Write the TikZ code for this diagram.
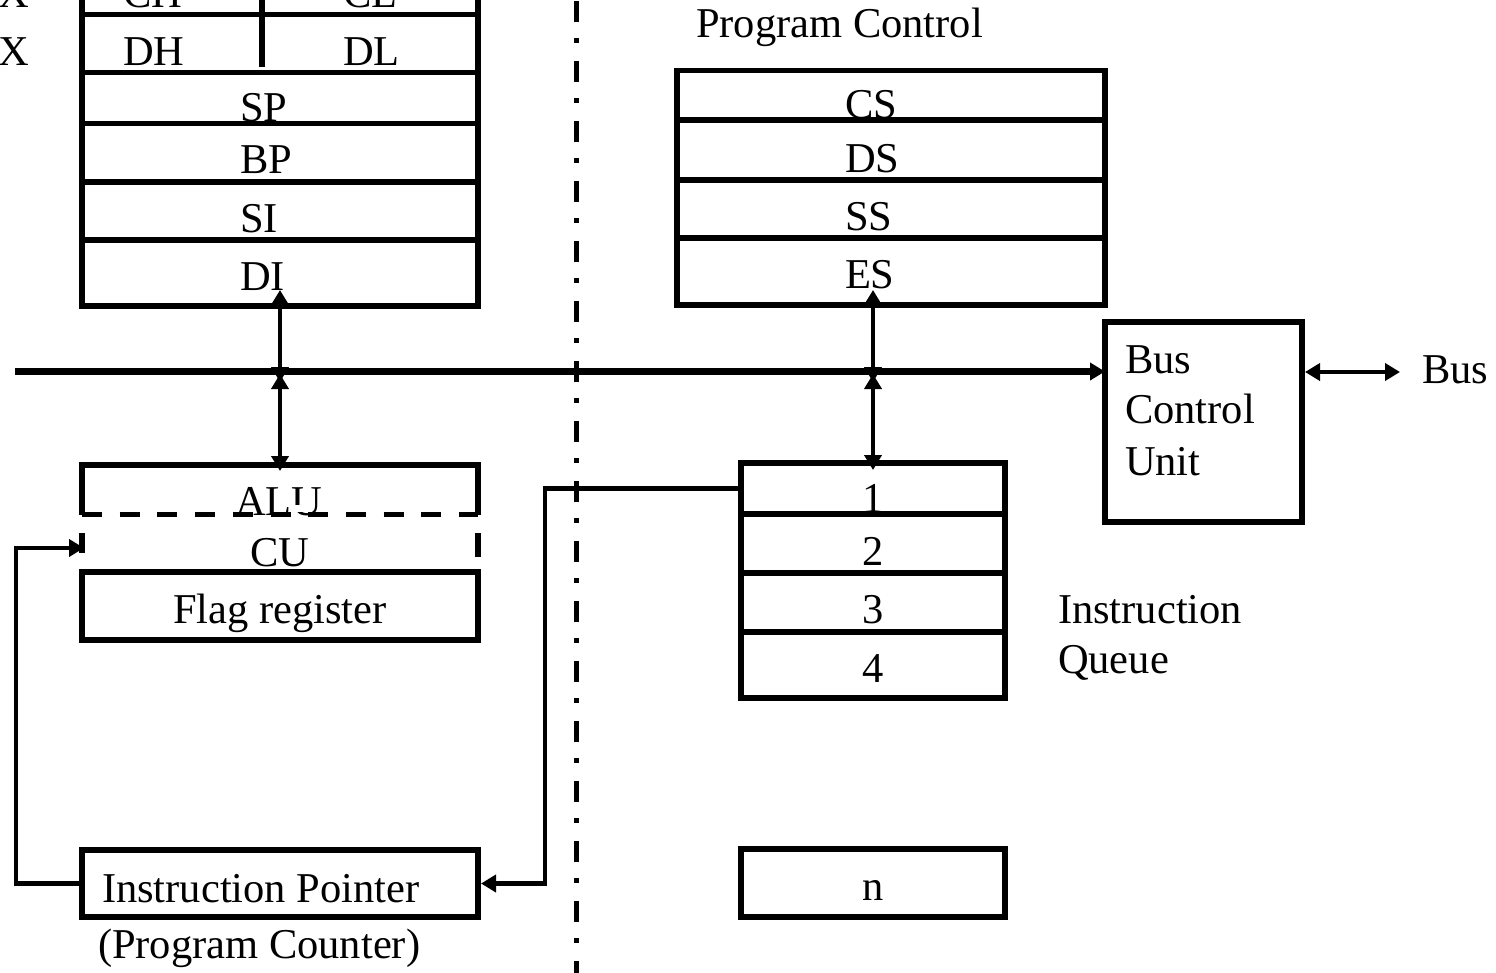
\documentclass[tikz,border=0pt]{standalone}
\usepackage{fontspec}
\setmainfont{Liberation Serif}
\usetikzlibrary{arrows.meta}
\begin{document}
\begin{tikzpicture}[x=1pt,y=-1pt,
  lbl/.style={font=\fontsize{42.5}{51}\selectfont, inner sep=0pt, outer sep=0pt},
  regbox/.style={draw, line width=5.3pt, inner sep=0pt, outer sep=0pt},
  hidden/.style={inner sep=0pt, outer sep=0pt},
  edge/.style={line width=5.3pt},
  conn/.style={line width=4.8pt},
  busline/.style={line width=6.3pt},
  >={Triangle[length=15pt,width=17pt]}
]
\useasboundingbox (0,0) rectangle (1496,972);
\clip (0,0) rectangle (1496,972);
\fill[white] (0,0) rectangle (1496,972);

% ---------- general purpose registers ----------
\node[regbox, minimum width=396pt, minimum height=58pt]   (cxrow) at (280,-14.5) {};
\node[regbox, minimum width=396pt, minimum height=58pt]   (dxrow) at (280,43.5) {};
\node[regbox, minimum width=396pt, minimum height=51pt]   (sp)    at (280,98) {};
\node[regbox, minimum width=396pt, minimum height=58.5pt] (bp)    at (280,152.75) {};
\node[regbox, minimum width=396pt, minimum height=58pt]   (si)    at (280,211) {};
\node[regbox, minimum width=396pt, minimum height=66pt]   (di)    at (280,273) {};
\draw[edge] (262,-50) -- (262,67);

\node[lbl, anchor=base east] (cxT) at (29,7) {CX};
\node[lbl, anchor=base east] (dxT) at (29,65) {DX};
\node[lbl, anchor=base west] (chT) at (123,7) {CH};
\node[lbl, anchor=base west] (clT) at (343,7) {CL};
\node[lbl, anchor=base west] (dhT) at (123,65) {DH};
\node[lbl, anchor=base west] (dlT) at (343,65) {DL};
\node[lbl, anchor=base west] (spT) at (240,121) {SP};
\node[lbl, anchor=base west] (bpT) at (240,173) {BP};
\node[lbl, anchor=base west] (siT) at (240,232) {SI};
\node[lbl, anchor=base west] (diT) at (240,290) {DI};

% ---------- segment registers ----------
\node[lbl, anchor=base west] (pcT) at (696,37) {Program Control};
\node[regbox, minimum width=428pt, minimum height=49.3pt] (cs) at (891,95.35) {};
\node[regbox, minimum width=428pt, minimum height=60pt]   (ds) at (891,150) {};
\node[regbox, minimum width=428pt, minimum height=58pt]   (ss) at (891,209) {};
\node[regbox, minimum width=428pt, minimum height=67pt]   (es) at (891,271.5) {};
\node[lbl, anchor=base west] (csT) at (845,118) {CS};
\node[lbl, anchor=base west] (dsT) at (845,172) {DS};
\node[lbl, anchor=base west] (ssT) at (845,230) {SS};
\node[lbl, anchor=base west] (esT) at (845,288) {ES};

% ---------- separator between the two units ----------
\draw[line width=5pt, dash pattern=on 21pt off 16pt on 5pt off 18pt] (576,-59) -- (576,1000);

% ---------- ALU / CU / flags ----------
\node[hidden, minimum width=396pt, minimum height=49.5pt] (alu) at (280,489.75) {};
\node[hidden, minimum width=396pt, minimum height=40.5pt] (cu)  at (280,534.75) {};
\node[lbl, anchor=base west] (aluT) at (235,515) {ALU};
\node[lbl, anchor=base west] (cuT)  at (250,566) {CU};
\fill[white] (290,505) rectangle (308,512);
\draw[edge] (alu.south west) |- (alu.north east) -- (alu.south east);
\draw[edge, dash pattern=on 20pt off 17.7pt] (alu.south west) -- (alu.south east);
\draw[edge] (82,533) -- (82,553);
\draw[edge] (478,533) -- (478,557);
\node[regbox, minimum width=396pt, minimum height=68pt] (flag) at (280,606) {};
\node[lbl, anchor=base west] (flagT) at (173,623) {Flag register};

% ---------- instruction pointer ----------
\node[regbox, minimum width=396pt, minimum height=67pt] (ip) at (280,883.5) {};
\node[lbl, anchor=base west] (ipT) at (102,902) {Instruction Pointer};
\node[lbl, anchor=base west] (pcntT) at (98,958) {(Program Counter)};

% ---------- instruction queue ----------
\node[regbox, minimum width=264pt, minimum height=51pt] (q1) at (873,488.5) {};
\node[regbox, minimum width=264pt, minimum height=59pt] (q2) at (873,543.5) {};
\node[regbox, minimum width=264pt, minimum height=59pt] (q3) at (873,602.5) {};
\node[regbox, minimum width=264pt, minimum height=66pt] (q4) at (873,665) {};
\node[regbox, minimum width=264pt, minimum height=68pt] (qn) at (873,883) {};
\node[lbl, anchor=base] (q1T) at (873,512) {1};
\node[lbl, anchor=base] (q2T) at (873,565) {2};
\node[lbl, anchor=base] (q3T) at (873,623) {3};
\node[lbl, anchor=base] (q4T) at (873,682) {4};
\node[lbl, anchor=base] (qnT) at (873,900) {n};
\node[lbl, anchor=base west] (iqT1) at (1058,623) {Instruction};
\node[lbl, anchor=base west] (iqT2) at (1058,673) {Queue};

% ---------- bus control unit ----------
\node[regbox, minimum width=197pt, minimum height=200pt] (bcu) at (1203.5,422) {};
\node[lbl, anchor=base west] (bcuT1) at (1125,373) {Bus};
\node[lbl, anchor=base west] (bcuT2) at (1125,423) {Control};
\node[lbl, anchor=base west] (bcuT3) at (1125,475) {Unit};
\node[lbl, anchor=base west] (busT) at (1422,383) {Bus};

% ---------- connection points ----------
\coordinate (busL)   at (15,371.5);
\coordinate (diTip)  at (280,290);
\coordinate (busD1)  at (280,382);
\coordinate (busU1)  at (280,374);
\coordinate (aluTip) at (280,471);
\coordinate (esTip)  at (873,290);
\coordinate (busD2)  at (873,382);
\coordinate (busU2)  at (873,374);
\coordinate (q1Tip)  at (873,470);
\coordinate (bcuR)   at (1305,372);
\coordinate (busOut) at (1400,372);
\coordinate (ipIn)   at (481,883.5);
\coordinate (cuIn)   at (84,548);

% ---------- connectors ----------
\draw[busline,->] (busL) -- (bcu.west |- busL);
\draw[conn,<->] (diTip) -- (busD1);
\draw[conn,<->] (busU1) -- (aluTip);
\draw[conn,<->] (esTip) -- (busD2);
\draw[conn,<->] (busU2) -- (q1Tip);
\draw[conn,<->] (bcuR) -- (busOut);
\draw[conn,->] (q1.west) -- ++(-196,0) |- (ipIn);
\draw[conn,->] (ip.west) -- ++(-66,0) |- (cuIn);
\end{tikzpicture}
\end{document}
